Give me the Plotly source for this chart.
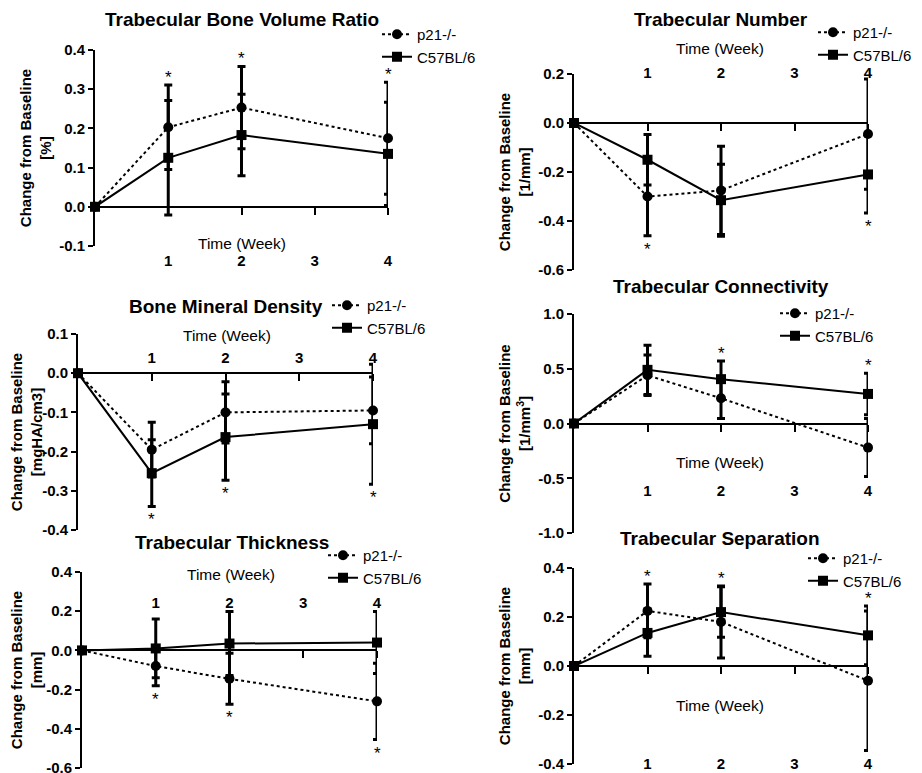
import plotly.graph_objects as go

W, H = 922, 773
PAGE_OFFSET = 8  # default body margin of the html page

weeks = [0, 1, 2, 4]
week_ticks = [1, 2, 3, 4]
week_labels = ["1", "2", "3", "4"]
series_names = ["p21-/-", "C57BL/6"]

# Trabecular Bone Volume Ratio
bvr_p21 = [0, 0.203, 0.253, 0.175]
bvr_p21_sd = [0, 0.108, 0.105, 0.143]
bvr_c57 = [0, 0.125, 0.183, 0.135]
bvr_c57_sd = [0, 0.146, 0.104, 0.132]
bvr_sig = [1, 2, 4]

# Trabecular Number
tbn_p21 = [0, -0.300, -0.275, -0.045]
tbn_p21_sd = [0, 0.160, 0.180, 0.225]
tbn_c57 = [0, -0.150, -0.315, -0.210]
tbn_c57_sd = [0, 0.103, 0.147, 0.157]
tbn_sig = [1, 4]

# Bone Mineral Density
bmd_p21 = [0, -0.195, -0.100, -0.095]
bmd_p21_sd = [0, 0.070, 0.078, 0.085]
bmd_c57 = [0, -0.255, -0.163, -0.130]
bmd_c57_sd = [0, 0.085, 0.110, 0.153]
bmd_sig = [1, 2, 4]

# Trabecular Connectivity
conn_p21 = [0, 0.44, 0.23, -0.22]
conn_p21_sd = [0, 0.185, 0.185, 0.265]
conn_c57 = [0, 0.49, 0.405, 0.27]
conn_c57_sd = [0, 0.225, 0.165, 0.19]
conn_sig = [2, 4]

# Trabecular Thickness
tbth_p21 = [0, -0.080, -0.145, -0.260]
tbth_p21_sd = [0, 0.100, 0.130, 0.195]
tbth_c57 = [0, 0.010, 0.035, 0.040]
tbth_c57_sd = [0, 0.150, 0.163, 0.158]
tbth_sig = [1, 2, 4]

# Trabecular Separation
tbsp_p21 = [0, 0.225, 0.180, -0.060]
tbsp_p21_sd = [0, 0.110, 0.147, 0.285]
tbsp_c57 = [0, 0.135, 0.220, 0.125]
tbsp_c57_sd = [0, 0.095, 0.103, 0.120]
tbsp_sig = [1, 2, 4]

FONT = "Arial, Liberation Sans, sans-serif"

panels = [
    dict(title="Trabecular Bone Volume Ratio", unit="[%]",
         p21=bvr_p21, p21_sd=bvr_p21_sd, c57=bvr_c57, c57_sd=bvr_c57_sd, sig=bvr_sig, sig_dir="up",
         yr=(-0.1, 0.4), dt=0.1, box=(95, 388, 50, 246), lab_side="bottom", lab_px=250,
         time_px=(242, 243), title_px=(242, 20), leg_px=(377, 18)),
    dict(title="Trabecular Number", unit="[1/mm]",
         p21=tbn_p21, p21_sd=tbn_p21_sd, c57=tbn_c57, c57_sd=tbn_c57_sd, sig=tbn_sig, sig_dir="down",
         yr=(-0.6, 0.2), dt=0.2, box=(574, 868, 74, 270), lab_side="top", lab_px=81,
         time_px=(720, 48), title_px=(721, 20), leg_px=(813, 16)),
    dict(title="Bone Mineral Density", unit="[mgHA/cm3]",
         p21=bmd_p21, p21_sd=bmd_p21_sd, c57=bmd_c57, c57_sd=bmd_c57_sd, sig=bmd_sig, sig_dir="down",
         yr=(-0.4, 0.1), dt=0.1, box=(78, 373, 334, 530), lab_side="top", lab_px=366,
         time_px=(227, 335), title_px=(226, 306), leg_px=(327, 289)),
    dict(title="Trabecular Connectivity", unit="[1/mm<sup>3</sup>]",
         p21=conn_p21, p21_sd=conn_p21_sd, c57=conn_c57, c57_sd=conn_c57_sd, sig=conn_sig, sig_dir="up",
         yr=(-1.0, 1.0), dt=0.5, box=(574, 868, 314, 533), lab_side="bottom", lab_px=480,
         time_px=(720, 462), title_px=(721, 287), leg_px=(775, 297)),
    dict(title="Trabecular Thickness", unit="[mm]",
         p21=tbth_p21, p21_sd=tbth_p21_sd, c57=tbth_c57, c57_sd=tbth_c57_sd, sig=tbth_sig, sig_dir="down",
         yr=(-0.6, 0.4), dt=0.2, box=(82, 377, 572, 768), lab_side="top", lab_px=611,
         time_px=(231, 574), title_px=(232, 542), leg_px=(323, 539)),
    dict(title="Trabecular Separation", unit="[mm]",
         p21=tbsp_p21, p21_sd=tbsp_p21_sd, c57=tbsp_c57, c57_sd=tbsp_c57_sd, sig=tbsp_sig, sig_dir="up",
         yr=(-0.4, 0.4), dt=0.2, box=(574, 868, 568, 764), lab_side="bottom", lab_px=753,
         time_px=(720, 705), title_px=(720, 538), leg_px=(803, 542)),
]


def px_x(p):
    return (p - PAGE_OFFSET) / W


def px_y(p):
    return 1 - (p - PAGE_OFFSET) / H


fig = go.Figure()
layout = dict(width=W, height=H, margin=dict(l=0, r=0, t=0, b=0, autoexpand=False),
              paper_bgcolor="white", plot_bgcolor="rgba(0,0,0,0)",
              font=dict(family=FONT, color="black"), annotations=[])

for i, pn in enumerate(panels, start=1):
    zx_n = 2 * i - 1
    lx_n = 2 * i
    zx_id = "x" if zx_n == 1 else f"x{zx_n}"
    lx_id = f"x{lx_n}"
    y_id = "y" if i == 1 else f"y{i}"
    leg_id = "legend" if i == 1 else f"legend{i}"
    x0, x4, ytop, ybot = pn["box"]
    ymin, ymax = pn["yr"]
    yzero_px = ytop + (ymax - 0) / (ymax - ymin) * (ybot - ytop)
    xdom = [px_x(x0), px_x(x4)]

    layout["xaxis" if zx_n == 1 else f"xaxis{zx_n}"] = dict(
        domain=xdom, range=[0, 4], anchor="free", position=px_y(yzero_px), side="bottom",
        showline=True, linewidth=2, linecolor="black",
        ticks="outside", ticklen=7, tickwidth=2, tickcolor="black",
        tickmode="array", tickvals=week_ticks, showticklabels=False,
        showgrid=False, zeroline=False, fixedrange=True)
    layout[f"xaxis{lx_n}"] = dict(
        overlaying=zx_id, range=[0, 4], anchor="free", position=px_y(pn["lab_px"]),
        side=pn["lab_side"], showline=False, ticks="",
        tickmode="array", tickvals=week_ticks, ticktext=[f"<b>{t}</b>" for t in week_labels],
        tickfont=dict(size=15, family=FONT, color="black"),
        showgrid=False, zeroline=False, fixedrange=True)

    nt = int(round((ymax - ymin) / pn["dt"]))
    yt = [round(ymin + k * pn["dt"], 3) for k in range(nt + 1)]
    layout["yaxis" if i == 1 else f"yaxis{i}"] = dict(
        domain=[px_y(ybot), px_y(ytop)], range=[ymin, ymax], anchor=zx_id, side="left",
        showline=True, linewidth=2, linecolor="black",
        ticks="outside", ticklen=5, tickwidth=2, tickcolor="black",
        tickmode="array", tickvals=yt, ticktext=[f"<b>{v:.1f}</b>" for v in yt],
        tickfont=dict(size=15, family=FONT, color="black"),
        title=dict(text=f"<b>Change from Baseline<br>{pn['unit']}</b>",
                   font=dict(size=15, family=FONT, color="black"), standoff=4),
        showgrid=False, zeroline=False, fixedrange=True)

    lx, ly = pn["leg_px"]
    layout[leg_id] = dict(x=px_x(lx), y=px_y(ly), xanchor="left", yanchor="top",
                          bgcolor="rgba(0,0,0,0)", font=dict(size=15, family=FONT, color="black"),
                          tracegroupgap=0)

    # carrier trace (no visible marks) so the week-label axis is drawn
    fig.add_trace(go.Scatter(
        x=week_ticks, y=[None] * len(week_ticks), mode="markers", showlegend=False,
        hoverinfo="skip", xaxis=lx_id, yaxis=y_id, marker=dict(opacity=0)))
    fig.add_trace(go.Scatter(
        x=weeks, y=pn["p21"], name=series_names[0], mode="lines+markers",
        line=dict(color="black", width=2, dash="dot"),
        marker=dict(symbol="circle", size=10, color="black"),
        error_y=dict(type="data", array=pn["p21_sd"], visible=True, color="black", thickness=3, width=4),
        xaxis=zx_id, yaxis=y_id, legend=leg_id, cliponaxis=False))
    fig.add_trace(go.Scatter(
        x=weeks, y=pn["c57"], name=series_names[1], mode="lines+markers",
        line=dict(color="black", width=2),
        marker=dict(symbol="square", size=10, color="black"),
        error_y=dict(type="data", array=pn["c57_sd"], visible=True, color="black", thickness=3, width=4),
        xaxis=zx_id, yaxis=y_id, legend=leg_id, cliponaxis=False))

    # significance asterisks, placed beyond the outermost error bar
    for wk in pn["sig"]:
        k = weeks.index(wk)
        if pn["sig_dir"] == "up":
            yv = max(pn["p21"][k] + pn["p21_sd"][k], pn["c57"][k] + pn["c57_sd"][k])
            layout["annotations"].append(dict(x=wk, y=yv, xref=zx_id, yref=y_id, text="*",
                                              showarrow=False, yanchor="bottom", yshift=-4,
                                              font=dict(size=17, family=FONT, color="black")))
        else:
            yv = min(pn["p21"][k] - pn["p21_sd"][k], pn["c57"][k] - pn["c57_sd"][k])
            layout["annotations"].append(dict(x=wk, y=yv, xref=zx_id, yref=y_id, text="*",
                                              showarrow=False, yanchor="top", yshift=-2,
                                              font=dict(size=17, family=FONT, color="black")))

    tx, ty = pn["time_px"]
    layout["annotations"].append(dict(x=px_x(tx), y=px_y(ty), xref="paper", yref="paper",
                                      text="Time (Week)", showarrow=False,
                                      xanchor="center", yanchor="middle",
                                      font=dict(size=15.5, family=FONT, color="black")))
    hx, hy = pn["title_px"]
    layout["annotations"].append(dict(x=px_x(hx), y=px_y(hy), xref="paper", yref="paper",
                                      text=f"<b>{pn['title']}</b>", showarrow=False,
                                      xanchor="center", yanchor="middle",
                                      font=dict(size=19, family=FONT, color="black")))

fig.update_layout(**layout)
fig.write_html("out.html")
